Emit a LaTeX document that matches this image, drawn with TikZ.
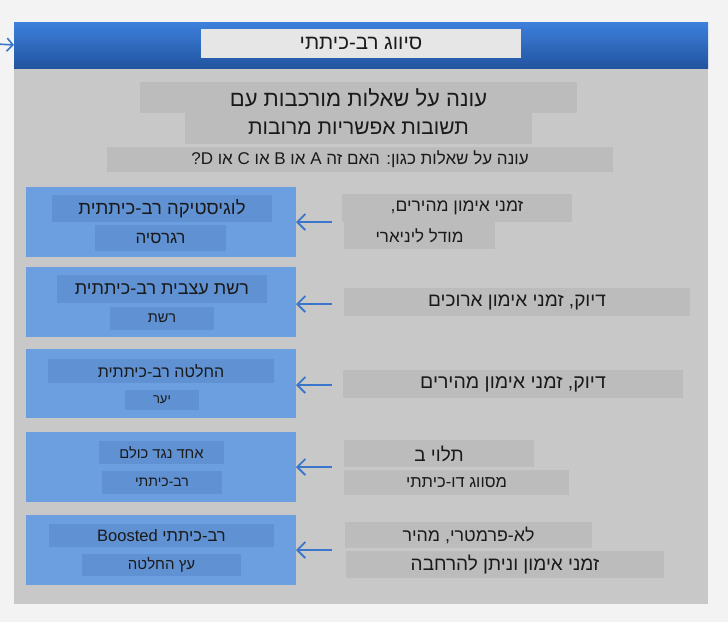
\documentclass[tikz,border=0pt]{standalone}
\usepackage{fontspec}
\setmainfont{Liberation Sans}
\newfontfamily\hebfont[Script=Hebrew]{Liberation Sans}
\TeXXeTstate=1
\usetikzlibrary{arrows.meta}
\definecolor{pagebg}{HTML}{F3F3F3}
\definecolor{panel}{HTML}{C8C8C8}
\definecolor{gboxc}{HTML}{BCBCBC}
\definecolor{hdrtop}{HTML}{3D80DC}
\definecolor{hdrbot}{HTML}{2254A0}
\definecolor{titlec}{HTML}{E6E6E6}
\definecolor{bluec}{HTML}{6C9FE0}
\definecolor{innerc}{HTML}{5F91D3}
\definecolor{arrc}{HTML}{3A77CC}
\definecolor{txt}{HTML}{1A1A1A}
\newcommand\hs[1]{\fontsize{#1}{#1}\selectfont\hebfont}
\tikzset{
  boxbase/.style={inner sep=0pt, outer sep=0pt, text=txt, anchor=center},
  gbox/.style={boxbase, fill=gboxc},
  ibox/.style={boxbase, fill=innerc},
  bbox/.style={boxbase, fill=bluec, minimum width=270pt},
  arr/.style={draw=arrc, line width=1.8pt, -{Straight Barb[length=8pt,width=16pt]}},
}
\begin{document}
\begin{tikzpicture}[x=1pt,y=-1pt]
\fill[pagebg] (0,0) rectangle (728,622);
\useasboundingbox (0,0) rectangle (728,622);
% panel
\node[boxbase, fill=panel, minimum width=694pt, minimum height=536pt] (panel) at (361,336) {};
\node[boxbase, top color=hdrtop, bottom color=hdrbot, minimum width=694pt, minimum height=46pt] (hdr) at (361,45) {};
\node[boxbase, fill=titlec, minimum width=320pt, minimum height=29pt] (title) at (361,43.5) {\hs{20.5}\beginR סיווג רב-כיתתי\endR};
\coordinate (lin) at (-3,44);
\draw[draw=arrc, line width=1.6pt, -{Straight Barb[length=6pt,width=13pt]}] (lin) -- (hdr.west);
% question
\node[gbox, minimum width=437pt, minimum height=31pt] (q1) at (358.5,97.5) {\hs{22}\beginR עונה על שאלות מורכבות עם\endR};
\node[gbox, minimum width=347pt, minimum height=31pt] (q2) at (358.5,128.5) {\hs{21}\beginR תשובות אפשריות מרובות\endR};
\node[gbox, minimum width=506pt, minimum height=25pt] (q3) at (360,159.5) {\hs{17}\beginR עונה על שאלות כגון: האם זה A או B או C או \beginL?D\endL\endR};
% blue boxes
\node[bbox, minimum height=70pt] (b1) at (161,222) {};
\node[bbox, minimum height=70pt] (b2) at (161,302) {};
\node[bbox, minimum height=69pt] (b3) at (161,383.5) {};
\node[bbox, minimum height=70pt] (b4) at (161,467) {};
\node[bbox, minimum height=70pt] (b5) at (161,550) {};
% inner boxes
\node[ibox, minimum width=220pt, minimum height=27pt] (i1a) at (162,208.5) {\hs{18.5}\beginR לוגיסטיקה רב-כיתתית\endR};
\node[ibox, minimum width=131pt, minimum height=26pt] (i1b) at (160.5,238) {\hs{17}\beginR רגרסיה\endR};
\node[ibox, minimum width=210pt, minimum height=28pt] (i2a) at (162,289) {\hs{18}\beginR רשת עצבית רב-כיתתית\endR};
\node[ibox, minimum width=104pt, minimum height=23pt] (i2b) at (162,318.5) {\hs{14.5}\beginR רשת\endR};
\node[ibox, minimum width=226pt, minimum height=24pt] (i3a) at (161,371) {\hs{16}\beginR החלטה רב-כיתתית\endR};
\node[ibox, minimum width=74pt, minimum height=20pt] (i3b) at (162,400) {\hs{13}\beginR יער\endR};
\node[ibox, minimum width=125pt, minimum height=23pt] (i4a) at (161.5,452.5) {\hs{14.7}\beginR אחד נגד כולם\endR};
\node[ibox, minimum width=120pt, minimum height=23pt] (i4b) at (162,482.5) {\hs{14}\beginR רב-כיתתי\endR};
\node[ibox, minimum width=225pt, minimum height=23pt] (i5a) at (161.5,535.5) {\hs{16.5}\beginR רב-כיתתי \beginL Boosted\endL\endR};
\node[ibox, minimum width=159pt, minimum height=22pt] (i5b) at (161.5,565) {\hs{15}\beginR עץ החלטה\endR};
% right boxes
\node[gbox, minimum width=230pt, minimum height=28pt] (r1a) at (457,208) {\hs{17.5}\beginR זמני אימון מהירים,\endR};
\node[gbox, minimum width=151pt, minimum height=27pt] (r1b) at (419.5,235.5) {\hs{17}\beginR מודל ליניארי\endR};
\node[gbox, minimum width=346pt, minimum height=28pt] (r2) at (517,302) {\hs{19}\beginR דיוק, זמני אימון ארוכים\endR};
\node[gbox, minimum width=340pt, minimum height=28pt] (r3) at (513,384) {\hs{19.5}\beginR דיוק, זמני אימון מהירים\endR};
\node[gbox, minimum width=190pt, minimum height=27pt] (r4a) at (439,453.5) {\hs{19}\beginR תלוי ב\endR};
\node[gbox, minimum width=225pt, minimum height=25pt] (r4b) at (456.5,482.5) {\hs{16.5}\beginR מסווג דו-כיתתי\endR};
\node[gbox, minimum width=247pt, minimum height=26pt] (r5a) at (468.5,535) {\hs{17.8}\beginR לא-פרמטרי, מהיר\endR};
\node[gbox, minimum width=318pt, minimum height=27pt] (r5b) at (505,564.5) {\hs{19}\beginR זמני אימון וניתן להרחבה\endR};
% arrows
\coordinate (s1) at (332,222);
\coordinate (s2) at (332,304);
\coordinate (s3) at (332,385);
\coordinate (s4) at (332,467);
\coordinate (s5) at (332,550);
\draw[arr] (s1) -- (b1.east |- s1);
\draw[arr] (s2) -- (b2.east |- s2);
\draw[arr] (s3) -- (b3.east |- s3);
\draw[arr] (s4) -- (b4.east |- s4);
\draw[arr] (s5) -- (b5.east |- s5);
\end{tikzpicture}
\end{document}
